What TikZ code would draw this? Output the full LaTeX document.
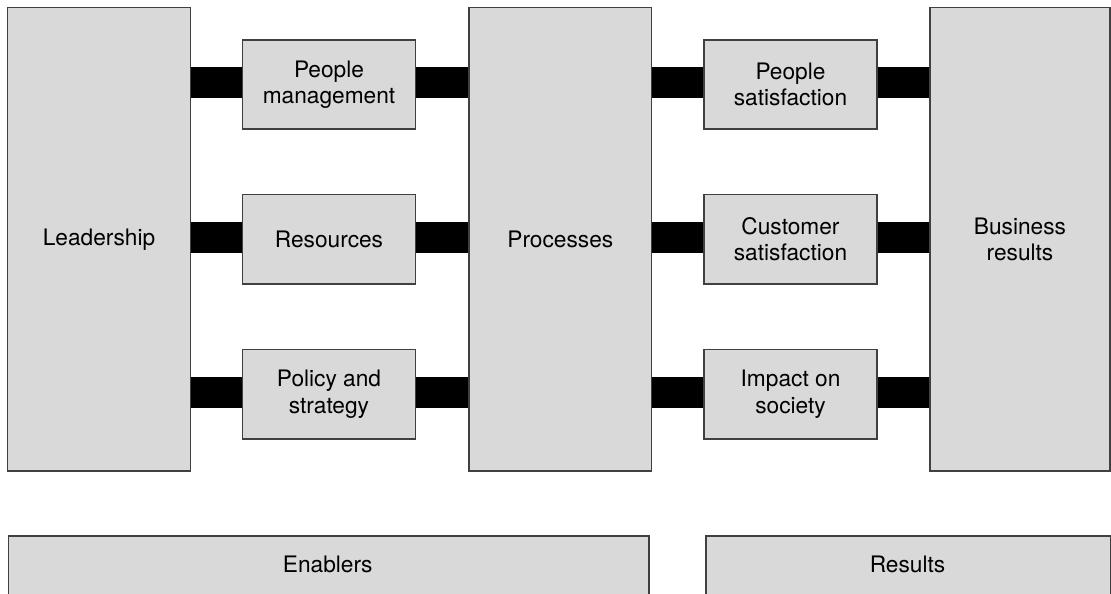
\documentclass[tikz,border=0pt]{standalone}
\usepackage{fontspec}
\setmainfont{TeX Gyre Heros}
\begin{document}
\begin{tikzpicture}[x=1pt,y=-1pt,
  box/.style={draw=black!75,fill=black!15,line width=1.6pt,inner sep=0pt,align=center,
    font=\fontsize{22.7}{26.5}\selectfont},
  bigbox/.style={box,minimum height=463.5pt},
  smallbox/.style={box,minimum width=173pt,minimum height=89.5pt},
  bar/.style={line width=31pt,black,line cap=butt}]
\useasboundingbox (0,0) rectangle (1111,594);
\clip (0,0) rectangle (1111,594);
% big columns
\node[bigbox,minimum width=183pt] (lead) at (99,239.25) {Leadership};
\node[bigbox,minimum width=182.7pt] (proc) at (560.3,239.25) {Processes};
\node[bigbox,minimum width=180pt] (bus) at (1020,239.25) {Business\\results};
% small boxes
\node[smallbox] (pm) at (329,84.5) {People\\management};
\node[smallbox] (res) at (329,239.3) {Resources};
\node[smallbox] (pol) at (329,394.2) {Policy and\\strategy};
\node[smallbox] (ps) at (790.5,84.5) {People\\satisfaction};
\node[smallbox] (cs) at (790.5,239.3) {Customer\\satisfaction};
\node[smallbox] (imp) at (790.5,394.2) {Impact on\\society};
% bars
\foreach \s in {pm,res,pol}{
  \draw[bar] ([yshift=2pt]\s.west) -- ([yshift=2pt]\s.west -| lead.east);
  \draw[bar] ([yshift=2pt]\s.east) -- ([yshift=2pt]\s.east -| proc.west);
}
\foreach \s in {ps,cs,imp}{
  \draw[bar] ([yshift=2pt]\s.west) -- ([yshift=2pt]\s.west -| proc.east);
  \draw[bar] ([yshift=2pt]\s.east) -- ([yshift=2pt]\s.east -| bus.west);
}
% bottom boxes
\node[box,minimum width=640.5pt,minimum height=60pt,anchor=north west] (en) at (7.5,535) {};
\node[font=\fontsize{22.7}{26.5}\selectfont,inner sep=0pt] (ent) at (327.75,564) {Enablers};
\node[box,minimum width=405pt,minimum height=60pt,anchor=north west] (re) at (705,535) {};
\node[font=\fontsize{22.7}{26.5}\selectfont,inner sep=0pt] (ret) at (907.5,564) {Results};
\end{tikzpicture}
\end{document}
